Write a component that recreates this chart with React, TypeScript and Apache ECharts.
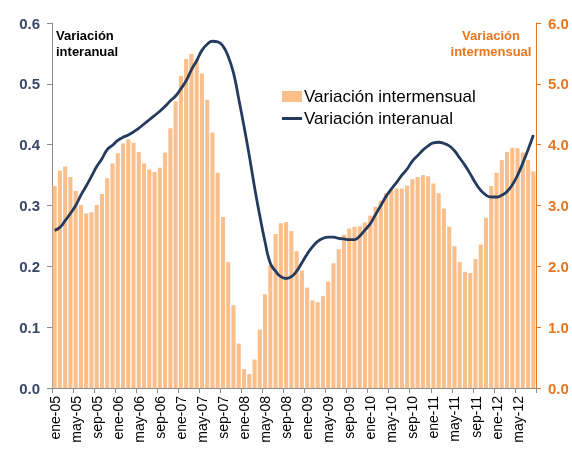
import React, { useEffect, useRef } from "react";
import * as echarts from "echarts";

const monthNames = ["ene", "feb", "mar", "abr", "may", "jun", "jul", "ago", "sep", "oct", "nov", "dic"];
const years = ["05", "06", "07", "08", "09", "10", "11", "12"];
const categories: string[] = [];
for (const y of years) {
  for (const m of monthNames) {
    categories.push(`${m}-${y}`);
  }
}
categories.length = 92; // ene-05 .. ago-12

// Variación intermensual (right axis, 0-6)
const intermensual = [
  3.32, 3.57, 3.64, 3.47, 3.24, 3.01, 2.87, 2.89, 3.01, 3.19, 3.45, 3.69,
  3.86, 4.02, 4.09, 4.03, 3.88, 3.69, 3.59, 3.55, 3.62, 3.87, 4.27, 4.71,
  5.13, 5.41, 5.49, 5.40, 5.17, 4.74, 4.20, 3.54, 2.81, 2.07, 1.36, 0.73,
  0.31, 0.23, 0.47, 0.96, 1.54, 2.02, 2.53, 2.71, 2.73, 2.58, 2.25, 1.93,
  1.65, 1.44, 1.41, 1.51, 1.75, 2.05, 2.28, 2.52, 2.62, 2.65, 2.66, 2.72,
  2.83, 2.98, 3.08, 3.20, 3.25, 3.28, 3.28, 3.33, 3.43, 3.47, 3.50, 3.48,
  3.36, 3.20, 2.95, 2.65, 2.33, 2.07, 1.91, 1.89, 2.12, 2.36, 2.80, 3.32,
  3.54, 3.75, 3.88, 3.95, 3.94, 3.87, 3.75, 3.56,
];

// Variación interanual (left axis, 0-0.6)
const interanual = [
  0.259, 0.264, 0.275, 0.287, 0.300, 0.317, 0.332, 0.348, 0.364, 0.377, 0.392, 0.399,
  0.407, 0.412, 0.416, 0.421, 0.427, 0.434, 0.441, 0.448, 0.455, 0.463, 0.472, 0.480,
  0.492, 0.505, 0.523, 0.538, 0.555, 0.565, 0.570, 0.569, 0.562, 0.545, 0.518, 0.475,
  0.430, 0.382, 0.330, 0.283, 0.240, 0.205, 0.192, 0.183, 0.180, 0.183, 0.192, 0.206,
  0.220, 0.232, 0.241, 0.246, 0.248, 0.248, 0.246, 0.245, 0.244, 0.244, 0.250, 0.260,
  0.270, 0.285, 0.300, 0.315, 0.327, 0.338, 0.350, 0.360, 0.373, 0.382, 0.391, 0.398,
  0.403, 0.404, 0.402, 0.398, 0.390, 0.378, 0.366, 0.352, 0.337, 0.325, 0.317, 0.314,
  0.314, 0.317, 0.323, 0.334, 0.350, 0.370, 0.392, 0.416,
];

const barName = "Variación intermensual";
const lineName = "Variación interanual";
const leftTitle = "Variación\ninteranual";
const rightTitle = "Variación\nintermensual";

const FONT = "'Liberation Sans', Arial, sans-serif";
const ORANGE = "#E8761E";
const NAVY = "#243B5E";

export default function App() {
  const ref = useRef<HTMLDivElement>(null);
  useEffect(() => {
    if (!ref.current) return;
    const chart = echarts.init(ref.current, null, { renderer: "svg" });
    chart.setOption({
      animation: false,
      textStyle: { fontFamily: FONT },
      grid: { left: 52, right: 36, top: 23, bottom: 67, containLabel: false },
      legend: {
        orient: "vertical",
        left: 277,
        top: 83,
        itemWidth: 20,
        itemHeight: 11,
        itemGap: 5,
        textStyle: { fontSize: 17, color: "#000", fontFamily: FONT, padding: [0, 0, 0, -3] },
        data: [
          { name: barName, icon: "rect" },
          { name: lineName, icon: "path://M0,0h20v3h-20z" },
        ],
      },
      graphic: [
        {
          type: "text",
          left: 56,
          top: 27,
          style: {
            text: leftTitle,
            fill: "#000",
            font: `bold 13px ${FONT}`,
            lineHeight: 16,
          },
        },
        {
          type: "text",
          x: 491,
          y: 27,
          style: {
            text: rightTitle,
            fill: ORANGE,
            font: `bold 13px ${FONT}`,
            align: "center",
            verticalAlign: "top",
            lineHeight: 16,
          },
        },
      ],
      xAxis: {
        type: "category",
        data: categories,
        boundaryGap: true,
        axisLine: { show: true, lineStyle: { color: "#8C8C8C", width: 1 } },
        axisTick: { show: true, interval: 3, length: 5, lineStyle: { color: "#8C8C8C" } },
        axisLabel: {
          interval: 3,
          rotate: 90,
          fontSize: 14,
          color: "#000",
          margin: 8,
          fontFamily: FONT,
        },
        splitLine: { show: false },
      },
      yAxis: [
        {
          type: "value",
          min: 0,
          max: 0.6,
          interval: 0.1,
          position: "left",
          axisLine: { show: true, lineStyle: { color: "#8C8C8C" } },
          axisTick: { show: true, length: 5, lineStyle: { color: "#8C8C8C" } },
          axisLabel: {
            formatter: (v: number) => v.toFixed(1),
            color: "#3A4767",
            fontSize: 15,
            fontWeight: "bold",
            margin: 12,
            fontFamily: FONT,
          },
          splitLine: { show: false },
        },
        {
          type: "value",
          min: 0,
          max: 6,
          interval: 1,
          position: "right",
          axisLine: { show: true, lineStyle: { color: ORANGE } },
          axisTick: { show: true, length: 5, lineStyle: { color: ORANGE } },
          axisLabel: {
            formatter: (v: number) => v.toFixed(1),
            color: ORANGE,
            fontSize: 15,
            fontWeight: "bold",
            margin: 12,
            fontFamily: FONT,
          },
          splitLine: { show: false },
        },
      ],
      series: [
        {
          name: barName,
          type: "bar",
          yAxisIndex: 1,
          data: intermensual,
          barCategoryGap: "22%",
          itemStyle: { color: "#FBBF8C" },
        },
        {
          name: lineName,
          type: "line",
          yAxisIndex: 0,
          data: interanual,
          smooth: true,
          showSymbol: false,
          symbol: "none",
          lineStyle: { color: NAVY, width: 2.8 },
          itemStyle: { color: NAVY },
        },
      ],
    });
    return () => chart.dispose();
  }, []);
  return (
    <div
      ref={ref}
      style={{ position: "fixed", left: 0, top: 0, width: 572, height: 455 }}
    />
  );
}
